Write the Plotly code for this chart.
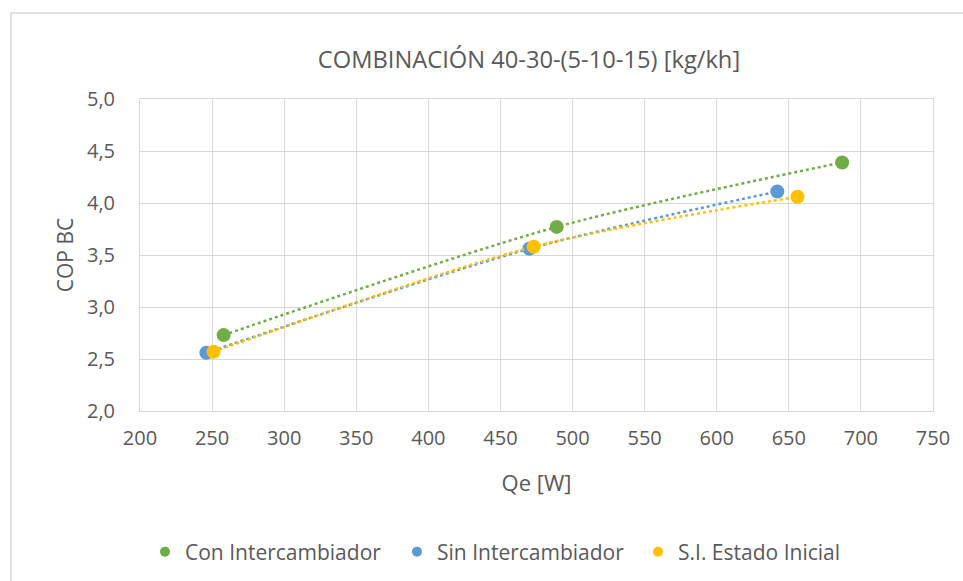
import plotly.graph_objects as go

# Heat-pump performance: cooling capacity Qe [W] vs COP for three configurations
series_names = ["Con Intercambiador", "Sin Intercambiador", "S.I. Estado Inicial"]
qe_con = [258, 489, 687]
cop_con = [2.73, 3.77, 4.39]
qe_sin = [246, 470, 642]
cop_sin = [2.56, 3.56, 4.11]
qe_ini = [251, 473, 656]
cop_ini = [2.57, 3.58, 4.06]
colors = ["#70AD47", "#5B9BD5", "#FFC000"]

x_ticks = [200, 250, 300, 350, 400, 450, 500, 550, 600, 650, 700, 750]
y_ticks = [2.0, 2.5, 3.0, 3.5, 4.0, 4.5, 5.0]

FONT = "Open Sans"
TXT = "#595959"
GRID = "#D9D9D9"

W, H = 963, 581
L, R, T, B = 140, 30, 99, 170
pw, ph = W - L - R, H - T - B

def px_x(p):
    return (p - L) / pw

def px_y(p):
    return (H - B - p) / ph

legend_ids = ["legend", "legend2", "legend3"]
legend_left_px = [145, 397, 638]

fig = go.Figure()
data = [(qe_con, cop_con), (qe_sin, cop_sin), (qe_ini, cop_ini)]
for name, (xs, ys), c in zip(series_names, data, colors):
    fig.add_trace(go.Scatter(
        x=xs, y=ys, mode="lines+markers", name=name, showlegend=False,
        line=dict(color=c, width=2.5, dash="dot", shape="spline", smoothing=0.8),
        marker=dict(color=c, size=14),
    ))
# legend entries: markers only, one legend box per series
for name, c, lid in zip(series_names, colors, legend_ids):
    fig.add_trace(go.Scatter(
        x=[None], y=[None], mode="markers", name=name, legend=lid,
        marker=dict(color=c, size=10),
    ))

legend_style = dict(orientation="h", yanchor="middle", y=px_y(552), xanchor="left",
                    font=dict(size=21, color=TXT), bgcolor="rgba(0,0,0,0)",
                    borderwidth=0)

fig.update_layout(
    width=W, height=H,
    margin=dict(l=L, r=R, t=T, b=B, autoexpand=False),
    paper_bgcolor="white", plot_bgcolor="white",
    separators=", ",
    font=dict(family=FONT, color=TXT, size=20),
    title=dict(text="COMBINACIÓN 40-30-(5-10-15) [kg/kh]",
               x=px_x(529), xanchor="center", xref="paper",
               y=1 - 60 / H, yanchor="middle",
               font=dict(family=FONT, color=TXT, size=23.7)),
    xaxis=dict(range=[200, 750], tickvals=x_ticks, ticktext=[str(v) for v in x_ticks],
               showgrid=True, gridcolor=GRID, gridwidth=1,
               showline=True, linecolor=GRID, linewidth=1, mirror=True,
               zeroline=False, ticks="", ticklabelstandoff=9,
               tickfont=dict(size=20),
               title=dict(text="Qe [W]", standoff=25, font=dict(size=22))),
    yaxis=dict(range=[2.0, 5.0], tickvals=y_ticks, tickformat=".1f",
               showgrid=True, gridcolor=GRID, gridwidth=1,
               showline=True, linecolor=GRID, linewidth=1, mirror=True,
               zeroline=False, ticks="", ticklabelstandoff=20,
               tickfont=dict(size=20),
               title=dict(text="COP BC", standoff=7, font=dict(size=21))),
    legend=dict(x=px_x(legend_left_px[0]), **legend_style),
    legend2=dict(x=px_x(legend_left_px[1]), **legend_style),
    legend3=dict(x=px_x(legend_left_px[2]), **legend_style),
    shapes=[dict(type="rect", xref="paper", yref="paper",
                 x0=px_x(11), x1=px_x(W + 20), y0=px_y(H + 20), y1=px_y(13),
                 line=dict(color=GRID, width=1.5), fillcolor="rgba(0,0,0,0)",
                 layer="below")],
)

fig.write_html("out.html")
